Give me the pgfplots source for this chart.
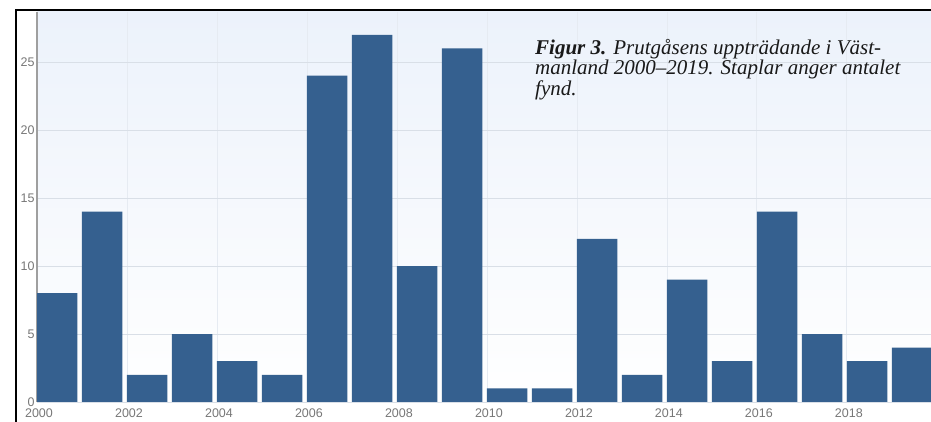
\documentclass[border=0pt]{standalone}
\usepackage{pgfplots}
\pgfplotsset{compat=1.18}
\usepackage{fontspec}
\setmainfont{Liberation Serif}
\newfontfamily\ticksans{Liberation Sans}

\definecolor{barblue}{HTML}{35608F}
\definecolor{bgtop}{HTML}{ECF2FB}
\definecolor{hgrid}{HTML}{D9DFE7}
\definecolor{vgrid}{HTML}{E6EBF2}
\definecolor{ticktext}{HTML}{777777}

\begin{document}
\begin{tikzpicture}[x=1pt,y=1pt]
\begin{axis}[
    at={(37pt,20pt)}, anchor=south west,
    scale only axis,
    width=894pt, height=390pt,
    xmin=2000, xmax=2019.87,
    ymin=0, ymax=28.68,
    axis x line*=bottom, axis y line*=left,
    x axis line style={draw=hgrid, -},
    y axis line style={draw=gray!75, line width=1.5pt, -},
    xtick={2000,2002,...,2018},
    ytick={0,5,...,25},
    major tick length=0pt,
    /pgf/number format/1000 sep={},
    /pgf/number format/assume math mode=true,
    ticklabel style={font=\ticksans\fontsize{12.5}{12.5}\selectfont, text=ticktext},
    xticklabel style={yshift=-3pt, xshift=2pt},
    yticklabel style={xshift=1pt},
    xmajorgrids, ymajorgrids,
    x grid style={draw=vgrid, line width=0.8pt},
    y grid style={draw=hgrid, line width=0.8pt},
    axis background/.style={shade, top color=bgtop, bottom color=white},
    ybar, bar width=0.9, bar shift=0pt,
]
\addplot[fill=barblue, draw=none] coordinates {
    (2000.45,8) (2001.45,14) (2002.45,2) (2003.45,5) (2004.45,3)
    (2005.45,2) (2006.45,24) (2007.45,27) (2008.45,10) (2009.45,26)
    (2010.45,1) (2011.45,1) (2012.45,12) (2013.45,2) (2014.45,9)
    (2015.45,3) (2016.45,14) (2017.45,5) (2018.45,3) (2019.45,4)
};
\end{axis}
\node[anchor=north west, inner sep=0pt, align=left, text=black!90,
      font=\itshape\fontsize{21}{20.5}\selectfont] at (535,383)
  {\textbf{Figur 3.} Prutgåsens uppträdande i Väst-\\manland 2000–2019. Staplar anger antalet\\fynd.};
\draw[line width=2pt] (16,0) -- (16,412) -- (931,412);
\pgfresetboundingbox
\useasboundingbox (0,0) rectangle (931,422);
\end{tikzpicture}
\end{document}
